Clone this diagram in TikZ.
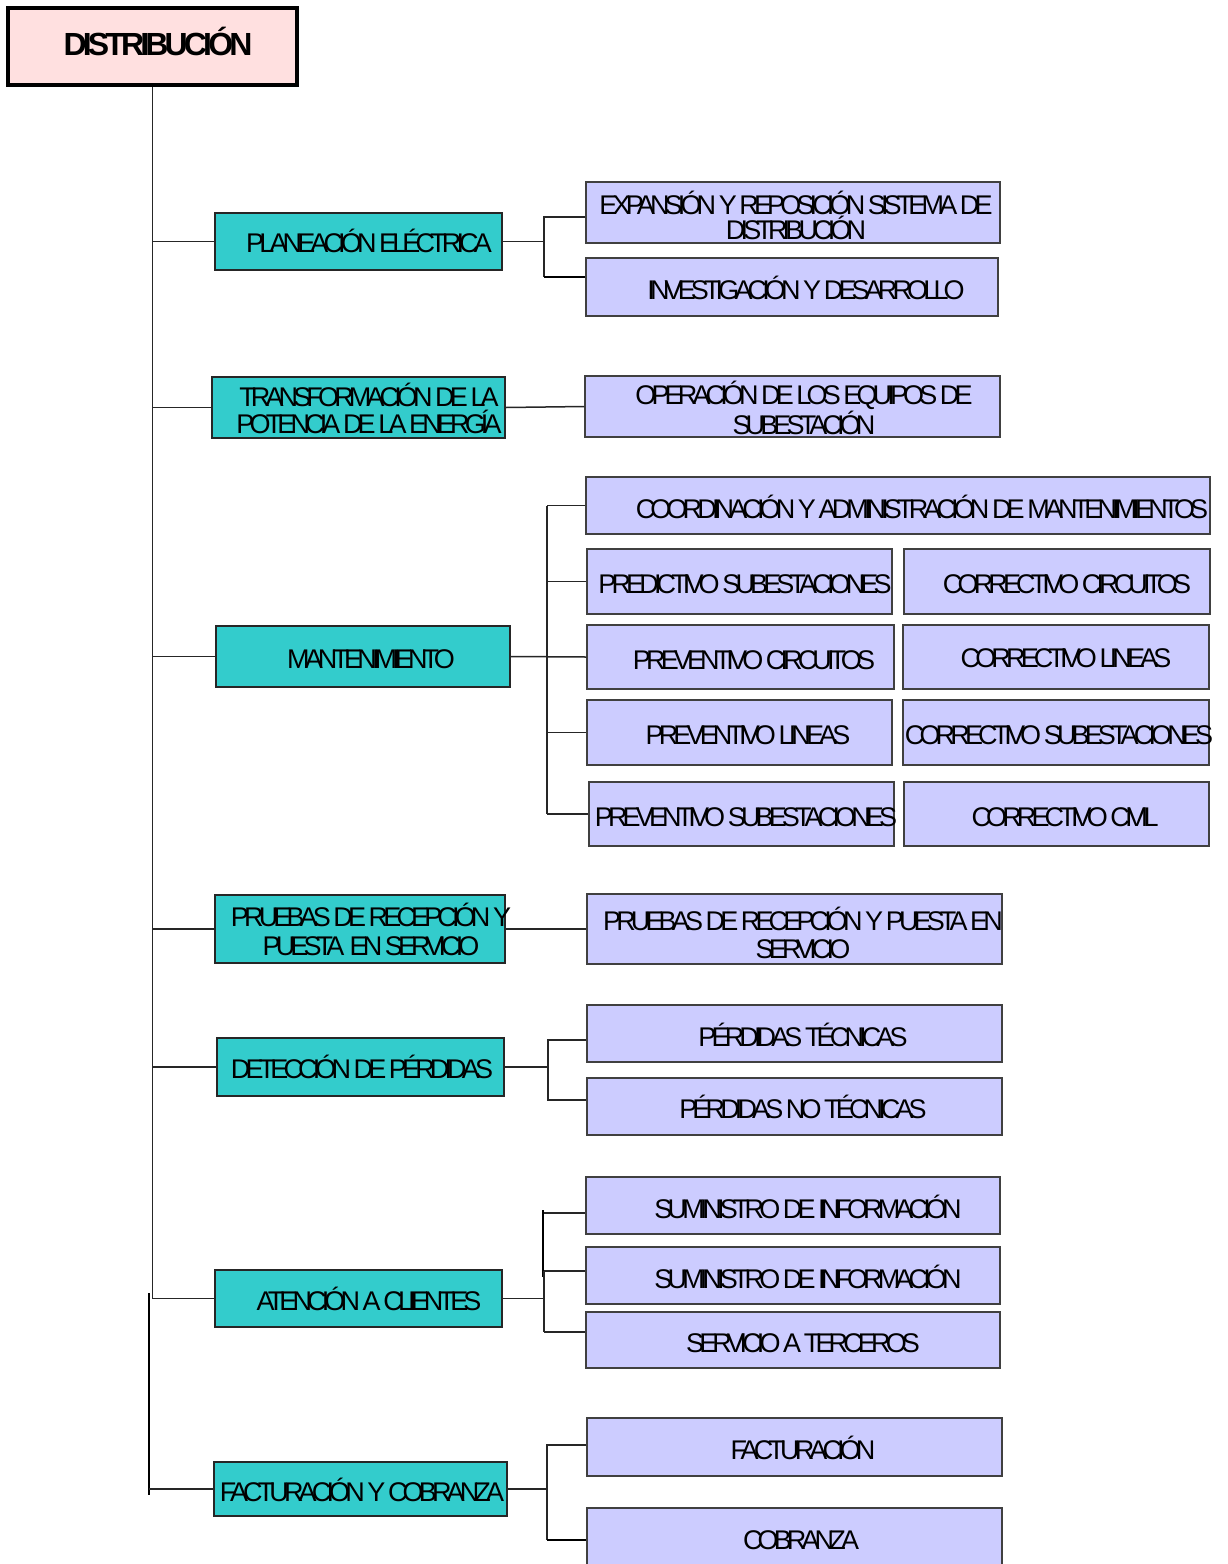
\documentclass[tikz,border=0pt]{standalone}
\usepackage{fontspec}
\setmainfont{Liberation Sans}[LetterSpace=-18]
\usetikzlibrary{fit}
\definecolor{tealc}{HTML}{33CCCC}
\definecolor{lavc}{HTML}{CCCCFF}
\definecolor{pinkc}{HTML}{FFE0E0}
\begin{document}
\begin{tikzpicture}[x=1pt,y=-1pt,
  box/.style={draw=black!85, line width=1.5pt, inner sep=0pt},
  area/.style={box, fill=tealc},
  task/.style={box, draw=black!75, fill=lavc},
  txt/.style={font=\fontsize{27}{#1}\selectfont, align=center, anchor=base, inner sep=0pt},
  txt/.default=27,
  link/.style={draw=black!85, line width=1.5pt},
  heavy/.style={draw=black, line width=2.5pt}]
\clip (0,0) rectangle (1228,1564);
\fill[white] (0,0) rectangle (1228,1564);

% root
\node[box, draw=black, line width=4pt, fill=pinkc, fit={(8,8)(297,85)}] (root) {};
\node[anchor=base, inner sep=0pt, font=\fontsize{32}{32}\selectfont\bfseries\addfontfeatures{LetterSpace=-12}] at (158,55) {DISTRIBUCIÓN};

% areas
\node[area, fit={(215,213)(502,270)}] (p1) {};
\node[area, fit={(212,377)(505,438)}] (p2) {};
\node[area, fit={(216,626)(510,687)}] (p3) {};
\node[area, fit={(215,895)(505,963)}] (p4) {};
\node[area, fit={(217,1038)(504,1096)}] (p5) {};
\node[area, fit={(215,1270)(502,1327)}] (p6) {};
\node[area, fit={(214,1462)(507,1516)}] (p7) {};

% multi-line labels: the base anchor sits on the last line
\node[txt] at (369,252) {PLANEACIÓN ELÉCTRICA};
\node[txt] at (369,433) {TRANSFORMACIÓN DE LA\\POTENCIA DE LA ENERGÍA};
\node[txt] at (371,668) {MANTENIMIENTO};
\node[txt=29] at (371,955) {PRUEBAS DE RECEPCIÓN Y\\PUESTA \ EN SERVICIO};
\node[txt] at (362,1078) {DETECCIÓN DE PÉRDIDAS};
\node[txt] at (369,1310) {ATENCIÓN A CLIENTES};
\node[txt] at (362,1501) {FACTURACIÓN Y COBRANZA};

% tasks
\node[task, fit={(586,182)(1000,243)}] (s11) {};
\node[task, fit={(586,258)(998,316)}] (s12) {};
\node[task, fit={(585,376)(1000,437)}] (s21) {};
\node[task, fit={(586,477)(1210,534)}] (m0) {};
\node[task, fit={(587,549)(892,614)}] (m1) {};
\node[task, fit={(904,549)(1210,614)}] (m2) {};
\node[task, fit={(587,625)(894,689)}] (m3) {};
\node[task, fit={(903,625)(1209,689)}] (m4) {};
\node[task, fit={(587,700)(892,765)}] (m5) {};
\node[task, fit={(903,700)(1209,765)}] (m6) {};
\node[task, fit={(589,782)(894,846)}] (m7) {};
\node[task, fit={(904,782)(1209,846)}] (m8) {};
\node[task, fit={(587,894)(1002,964)}] (s41) {};
\node[task, fit={(587,1005)(1002,1062)}] (s51) {};
\node[task, fit={(587,1078)(1002,1135)}] (s52) {};
\node[task, fit={(586,1177)(1000,1234)}] (s61) {};
\node[task, fit={(586,1247)(1000,1304)}] (s62) {};
\node[task, fit={(586,1312)(1000,1368)}] (s63) {};
\node[task, fit={(587,1418)(1002,1476)}] (s71) {};
\node[task, fit={(587,1508)(1002,1580)}] (s72) {};

\node[txt=25] at (796,239) {EXPANSIÓN Y REPOSICIÓN SISTEMA DE\\DISTRIBUCIÓN};
\node[txt] at (806,299) {INVESTIGACIÓN Y DESARROLLO};
\node[txt=28] at (804,434) {OPERACIÓN DE LOS EQUIPOS DE\\SUBESTACIÓN};
\node[txt] at (922,518) {COORDINACIÓN Y ADMINISTRACIÓN DE MANTENIMIENTOS};
\node[txt] at (745,593) {PREDICTIVO SUBESTACIONES};
\node[txt] at (1067,593) {CORRECTIVO CIRCUITOS};
\node[txt] at (754,669) {PREVENTIVO CIRCUITOS};
\node[txt] at (1066,667) {CORRECTIVO LINEAS};
\node[txt] at (748,744) {PREVENTIVO LINEAS};
\node[txt] at (1059,744) {CORRECTIVO SUBESTACIONES};
\node[txt] at (746,826) {PREVENTIVO SUBESTACIONES};
\node[txt] at (1065,826) {CORRECTIVO CIVIL};
\node[txt=28] at (803,958) {PRUEBAS DE RECEPCIÓN Y PUESTA EN\\SERVICIO};
\node[txt] at (803,1046) {PÉRDIDAS TÉCNICAS};
\node[txt] at (803,1118) {PÉRDIDAS NO TÉCNICAS};
\node[txt] at (808,1218) {SUMINISTRO DE INFORMACIÓN};
\node[txt] at (808,1288) {SUMINISTRO DE INFORMACIÓN};
\node[txt] at (803,1352) {SERVICIO A TERCEROS};
\node[txt] at (803,1459) {FACTURACIÓN};
\node[txt] at (801,1549) {COBRANZA};

% trunk
\coordinate (tEnd) at (root.south |- p6.west);
\draw[link] (root.south) -- (tEnd);
\foreach \a in {p1,p2,p3,p4,p5,p6}
  \draw[link] (root.south |- \a.west) -- (\a.west);
\coordinate (lowTop) at (149,1293);
\coordinate (lowBot) at (149,1495);
\draw[heavy] (lowTop) -- (lowBot);
\draw[link] (lowBot |- p7.west) -- (p7.west);

% planeacion
\coordinate (b1t) at (544,217);
\coordinate (b1b) at (544,277);
\draw[link] (p1.east) -- (p1.east -| b1t);
\draw[link] (b1t -| s11.west) -- (b1t) -- (b1b);
\draw[heavy] (b1b) -- (b1b -| s12.west);

% transformacion
\draw[link] (p2.east) -- (s21.west);

% mantenimiento
\coordinate (b3) at (547,655);
\draw[link] (p3.east) -- (m3.west);
\draw[link] (b3 |- m0.west) -- (b3 |- m7.west);
\foreach \t in {m0,m1,m5,m7}
  \draw[link] (b3 |- \t.west) -- (\t.west);

% pruebas
\draw[link] (p4.east) -- (s41.west);

% deteccion
\coordinate (b5t) at (548,1040);
\coordinate (b5b) at (548,1100);
\draw[link] (p5.east) -- (p5.east -| b5t);
\draw[link] (b5t -| s51.west) -- (b5t) -- (b5b) -- (b5b -| s52.west);

% atencion
\coordinate (b6t) at (543,1210);
\coordinate (b6m) at (543,1277);
\coordinate (h61) at (544,1213);
\coordinate (h62) at (544,1271);
\coordinate (h63) at (544,1332);
\draw[heavy] (b6t) -- (b6m);
\draw[link] (p6.east) -- (p6.east -| h62);
\draw[link] (h62) -- (h63);
\draw[link] (h61) -- (h61 -| s61.west);
\draw[link] (h62) -- (h62 -| s62.west);
\draw[link] (h63) -- (h63 -| s63.west);

% facturacion
\coordinate (b7t) at (547,1445);
\coordinate (b7b) at (547,1540);
\draw[link] (p7.east) -- (p7.east -| b7t);
\draw[link] (b7t -| s71.west) -- (b7t) -- (b7b);
\draw[heavy] (b7b) -- (b7b -| s72.west);
\end{tikzpicture}
\end{document}
